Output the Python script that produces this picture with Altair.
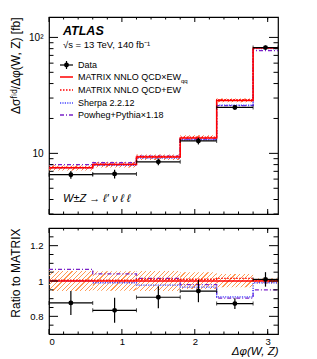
import math
import altair as alt
import pandas as pd

# ---------------- data ----------------
edges = [0.0, 0.6, 1.2, 1.8, 2.3, 2.8, math.pi]
centers = [0.30, 0.90, 1.50, 2.05, 2.55, 2.97]

data_xsec = [6.55, 6.65, 8.45, 12.8, 24.9, 81.7]
data_err = [0.51, 0.57, 0.57, 0.86, 0.89, 3.3]
matrix = [7.5, 8.0, 9.3, 13.6, 28.6, 81.0]
matrix_hi = [7.9, 8.45, 9.8, 14.3, 29.7, 82.2]
matrix_lo = [7.1, 7.55, 8.75, 13.0, 27.6, 79.8]
matrix_ew = [7.55, 8.05, 9.4, 13.8, 29.0, 81.5]
sherpa = [7.5, 7.9, 9.1, 13.1, 26.0, 80.2]
powheg = [8.0, 8.3, 9.45, 13.3, 25.8, 77.0]

ratio_data = [0.876, 0.834, 0.908, 0.943, 0.872, 1.009]
ratio_err = [0.068, 0.071, 0.062, 0.063, 0.031, 0.041]
ratio_hi = [1.057, 1.055, 1.057, 1.05, 1.04, 1.015]
ratio_lo = [0.943, 0.945, 0.943, 0.955, 0.965, 0.985]
ratio_matrix = [1.0, 1.0, 1.0, 1.0, 1.0, 1.0]
ratio_ew = [1.005, 1.005, 1.01, 1.01, 1.015, 1.005]
ratio_sherpa = [1.0, 0.99, 0.977, 0.965, 0.91, 0.99]
ratio_powheg = [1.066, 1.04, 1.015, 0.98, 0.903, 0.95]

legend_labels = ["Data", "MATRIX NNLO QCD\u00d7EW", "MATRIX NNLO QCD+EW",
                 "Sherpa 2.2.12", "Powheg+Pythia\u00d71.18"]

y1_major = [10, 100]
y1_minor = [3, 4, 5, 6, 7, 8, 9, 20, 30, 40, 50, 60, 70, 80, 90]
y2_major = [0.8, 1.0, 1.2]
y2_minor = [0.75, 0.85, 0.9, 0.95, 1.05, 1.1, 1.15, 1.25]
x_major = [0, 1, 2, 3]
x_minor = [0.2, 0.4, 0.6, 0.8, 1.2, 1.4, 1.6, 1.8, 2.2, 2.4, 2.6, 2.8, 3.0]

# ---------------- layout / style ----------------
W = 229
H1 = 197
H2 = 106
FONT = "Liberation Sans"
X_DOM = [0, math.pi]
Y1_DOM = [3, 150]
Y2_DOM = [0.7, 1.3]

RED = "#ff0000"
BLUE = "#4646ff"
PURPLE = "#7a22c8"
HATCH = "#ff9a55"

xscale = alt.Scale(domain=X_DOM, nice=False, zero=False)
y1scale = alt.Scale(type="log", domain=Y1_DOM, nice=False)
y2scale = alt.Scale(domain=Y2_DOM, nice=False, zero=False)

x_axis_top = alt.Axis(labels=False, ticks=False, domain=False, grid=False, title=None)
x_axis_bot = alt.Axis(values=x_major, format="d", ticks=False, domain=False, grid=False,
                      labelPadding=2, labelFontSize=9.5,
                      title="\u0394\u03c6(W, Z)", titleAnchor="end",
                      titleFontStyle="italic", titlePadding=0, titleFontSize=11.5)
y_axis_top = alt.Axis(values=y1_major, ticks=False, domain=False, grid=False,
                      labelExpr="datum.value == 100 ? '10\u00b2' : '10'", labelPadding=6,
                      labelFontSize=10,
                      title="\u0394\u03c3\u1da0\u2071\u1d48/\u0394\u03c6(W, Z) [fb]",
                      titleAnchor="end", titleFontSize=12, titleX=-27,
                      titleBaseline="bottom")
y_axis_bot = alt.Axis(values=y2_major, format="~g", ticks=False, domain=False, grid=False,
                      labelPadding=6, labelFontSize=9.5,
                      title="Ratio to MATRIX", titleAnchor="end",
                      titleFontSize=12, titleX=-27, titleBaseline="bottom")


def step_df(vals):
    return pd.DataFrame({"x": edges, "y": list(vals) + [vals[-1]]})


def step_line(vals, yscale, yaxis, xaxis, color, dash=None, width=1.3):
    kw = dict(interpolate="step-after", color=color, strokeWidth=width)
    if dash:
        kw["strokeDash"] = dash
    return alt.Chart(step_df(vals)).mark_line(**kw).encode(
        x=alt.X("x:Q", scale=xscale, axis=xaxis),
        y=alt.Y("y:Q", scale=yscale, axis=yaxis),
    )


def hatch_layers(lo, hi, yscale, yaxis, xaxis, ypix, color):
    layers = []
    for i in range(len(lo)):
        w = (edges[i + 1] - edges[i]) * W / math.pi
        h = max(ypix(hi[i]) - ypix(lo[i]), 1.0)
        s = (w + h) * w / (w * w + h * h)
        p = 4.6 / (w + h)
        stops = []
        off = 0.0
        while off < 1.0:
            b = min(off + 0.26 * p, 1.0)
            c = min(off + p, 1.0)
            stops += [alt.GradientStop(offset=off, color=color),
                      alt.GradientStop(offset=b, color=color),
                      alt.GradientStop(offset=b, color="rgba(255,255,255,0)"),
                      alt.GradientStop(offset=c, color="rgba(255,255,255,0)")]
            off += p
        grad = alt.LinearGradient(gradient="linear", stops=stops, x1=0, y1=0,
                                  x2=s, y2=s * h / w)
        df = pd.DataFrame({"x0": [edges[i]], "x1": [edges[i + 1]],
                           "lo": [lo[i]], "hi": [hi[i]]})
        layers.append(alt.Chart(df).mark_rect(fill=grad, strokeWidth=0).encode(
            x=alt.X("x0:Q", scale=xscale, axis=xaxis), x2="x1:Q",
            y=alt.Y("lo:Q", scale=yscale, axis=yaxis), y2="hi:Q"))
    return layers


def tick_layers(yvals_major, yvals_minor, yscale, yaxis, xaxis, H):
    out = []
    for vals, ln in ((yvals_major, 9), (yvals_minor, 4.5)):
        df = pd.DataFrame({"v": vals})
        out.append(alt.Chart(df).mark_rule(color="black", strokeWidth=1).encode(
            y=alt.Y("v:Q", scale=yscale, axis=yaxis), x=alt.value(0), x2=alt.value(ln)))
        out.append(alt.Chart(df).mark_rule(color="black", strokeWidth=1).encode(
            y=alt.Y("v:Q", scale=yscale, axis=yaxis), x=alt.value(W - ln), x2=alt.value(W)))
    for vals, ln in ((x_major, 5), (x_minor, 2.5)):
        df = pd.DataFrame({"v": vals})
        out.append(alt.Chart(df).mark_rule(color="black", strokeWidth=1).encode(
            x=alt.X("v:Q", scale=xscale, axis=xaxis), y=alt.value(0), y2=alt.value(ln)))
        out.append(alt.Chart(df).mark_rule(color="black", strokeWidth=1).encode(
            x=alt.X("v:Q", scale=xscale, axis=xaxis), y=alt.value(H - ln), y2=alt.value(H)))
    return out


def data_layers(vals, errs, yscale, yaxis, xaxis):
    df = pd.DataFrame({"c": centers, "y": vals,
                       "lo": [v - e for v, e in zip(vals, errs)],
                       "hi": [v + e for v, e in zip(vals, errs)],
                       "x0": edges[:-1], "x1": edges[1:]})
    base = alt.Chart(df)
    X = alt.X("c:Q", scale=xscale, axis=xaxis)
    Y = alt.Y("y:Q", scale=yscale, axis=yaxis)
    vbar = base.mark_rule(color="black", strokeWidth=1.2).encode(
        x=X, y=alt.Y("lo:Q", scale=yscale, axis=yaxis), y2="hi:Q")
    hbar = base.mark_rule(color="black", strokeWidth=1.2).encode(
        x=alt.X("x0:Q", scale=xscale, axis=xaxis), x2="x1:Q", y=Y)
    capl = base.mark_tick(color="black", orient="vertical", size=4, thickness=1).encode(
        x=alt.X("x0:Q", scale=xscale, axis=xaxis), y=Y)
    capr = base.mark_tick(color="black", orient="vertical", size=4, thickness=1).encode(
        x=alt.X("x1:Q", scale=xscale, axis=xaxis), y=Y)
    pts = base.mark_point(filled=True, color="black", opacity=1, size=24).encode(x=X, y=Y)
    return [hbar, capl, capr, vbar, pts]


def y1pix(v):
    return math.log10(v) / math.log10(Y1_DOM[1] / Y1_DOM[0]) * H1


def y2pix(v):
    return v / (Y2_DOM[1] - Y2_DOM[0]) * H2


one = pd.DataFrame({"a": [0]})


def txt(s, x, y, size=9, style="normal", weight="normal", color="black"):
    return alt.Chart(one).mark_text(text=s, align="left", baseline="middle", font=FONT,
                                    fontSize=size, fontStyle=style, fontWeight=weight,
                                    color=color).encode(x=alt.value(x), y=alt.value(y))


def seg(x0, x1, y, color, dash=None, width=1.4):
    kw = dict(color=color, strokeWidth=width)
    if dash:
        kw["strokeDash"] = dash
    return alt.Chart(one).mark_rule(**kw).encode(
        x=alt.value(x0), x2=alt.value(x1), y=alt.value(y))


# ---------------- top panel ----------------
top_layers = []
top_layers += hatch_layers(matrix_lo, matrix_hi, y1scale, y_axis_top, x_axis_top, y1pix, "#ff7a45")
top_layers += [
    step_line(powheg, y1scale, y_axis_top, x_axis_top, PURPLE, [4, 2, 1, 2]),
    step_line(sherpa, y1scale, y_axis_top, x_axis_top, BLUE, [1.2, 1.2]),
    step_line(matrix_ew, y1scale, y_axis_top, x_axis_top, RED, [1.5, 1.5]),
    step_line(matrix, y1scale, y_axis_top, x_axis_top, RED, None, 1.5),
]
top_layers += data_layers(data_xsec, data_err, y1scale, y_axis_top, x_axis_top)
top_layers += tick_layers(y1_major, y1_minor, y1scale, y_axis_top, x_axis_top, H1)

# annotations and legend
top_layers += [
    txt("ATLAS", 14, 14, size=12.5, style="italic", weight="bold"),
    txt("\u221as = 13 TeV, 140 fb\u207b\u00b9", 14, 28, size=9.5),
]
leg_y = [48, 60, 73, 86, 98]
LX0, LX1, LT = 11, 24, 29
top_layers += [
    seg(LX0, LX1, leg_y[0], "black", None, 1.2),
    seg(17.5, 17.5, leg_y[0] - 4, "black", None, 1.2).encode(y2=alt.value(leg_y[0] + 4)),
    alt.Chart(one).mark_point(filled=True, color="black", opacity=1, size=24).encode(
        x=alt.value(17.5), y=alt.value(leg_y[0])),
    seg(LX0, LX1, leg_y[1], RED, None, 1.5),
    seg(LX0, LX1, leg_y[2], RED, [1.5, 1.5], 1.5),
    seg(LX0, LX1, leg_y[3], BLUE, [1.2, 1.2], 1.4),
    seg(LX0, LX1, leg_y[4], PURPLE, [4, 2, 1, 2], 1.4),
]
for lab, yy in zip(legend_labels, leg_y):
    top_layers.append(txt(lab, LT, yy, size=9))
top_layers.append(txt("qq", 132, leg_y[1] + 4, size=6))
top_layers.append(txt("W\u00b1Z \u2192  \u2113\u2032 \u03bd \u2113 \u2113", 14, 182, size=11, style="italic"))

top = alt.layer(*top_layers).properties(width=W, height=H1)

# ---------------- ratio panel ----------------
bot_layers = []
bot_layers += hatch_layers(ratio_lo, ratio_hi, y2scale, y_axis_bot, x_axis_bot, y2pix, HATCH)
bot_layers += [
    step_line(ratio_powheg, y2scale, y_axis_bot, x_axis_bot, PURPLE, [4, 2, 1, 2]),
    step_line(ratio_sherpa, y2scale, y_axis_bot, x_axis_bot, BLUE, [1.2, 1.2]),
    step_line(ratio_ew, y2scale, y_axis_bot, x_axis_bot, RED, [1.5, 1.5]),
    step_line(ratio_matrix, y2scale, y_axis_bot, x_axis_bot, RED, None, 1.5),
]
bot_layers += data_layers(ratio_data, ratio_err, y2scale, y_axis_bot, x_axis_bot)
bot_layers += tick_layers(y2_major, y2_minor, y2scale, y_axis_bot, x_axis_bot, H2)

bot = alt.layer(*bot_layers).properties(width=W, height=H2)

chart = (
    alt.vconcat(top, bot, spacing=10)
    .properties(padding={"left": 0, "top": 7, "right": 5, "bottom": 2})
    .configure_view(stroke="black", strokeWidth=1.2)
    .configure_scale(continuousPadding=0)
    .configure_axis(labelFont=FONT, titleFont=FONT, labelFontSize=10,
                    labelColor="black", titleColor="black", titleFontWeight="normal")
    .configure_text(font=FONT)
)

chart.save("out.html", embed_options={"renderer": "svg", "actions": False})
